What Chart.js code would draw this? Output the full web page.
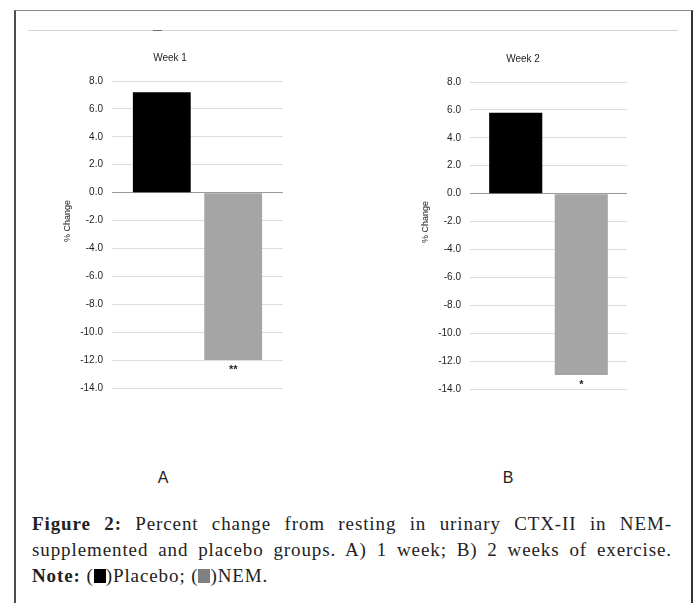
<!DOCTYPE html>
<html>
<head>
<meta charset="utf-8">
<script src="https://cdn.jsdelivr.net/npm/chart.js@4.4.1/dist/chart.umd.min.js"></script>
<style>
  html, body { margin:0; padding:0; background:#fff; }
  body { width:697px; height:603px; position:relative; overflow:hidden; }
  #frame { position:absolute; left:14px; top:10px; width:675px; height:700px;
           border-left:2px solid #4d4d4d; border-right:2px solid #333; border-top:1px solid #8a8a8a; }
  #topline { position:absolute; left:28px; top:30px; width:650px; height:1px; background:#d2d2dc; }
  #topmark { position:absolute; left:153px; top:30px; width:9px; height:1px; background:#707070; }
  canvas { position:absolute; }
  #cA { left:57px; top:48px; }
  #cB { left:419px; top:49px; }
  .panel { position:absolute; top:470px; font:16px "Liberation Sans", Arial, sans-serif; color:#222;
           width:40px; text-align:center; line-height:16px; }
  #caption { position:absolute; left:32px; top:511px; width:640px;
             font:19px "Liberation Serif", "Times New Roman", serif; color:#222; line-height:26px;
             letter-spacing:0.9px; }
  #caption .j { text-align:justify; text-align-last:justify; white-space:nowrap; }
  .sq { display:inline-block; width:12px; height:14px; vertical-align:-1px; }
</style>
</head>
<body>
<div id="frame"></div>
<div id="topline"></div>
<div id="topmark"></div>
<canvas id="cA" width="226" height="355"></canvas>
<canvas id="cB" width="208" height="355"></canvas>
<div class="panel" style="left:143px;">A</div>
<div class="panel" style="left:488px;">B</div>
<div id="caption">
  <div class="j"><b>Figure 2:</b> Percent change from resting in urinary CTX-II in NEM-</div>
  <div class="j">supplemented and placebo groups. A) 1 week; B) 2 weeks of exercise.</div>
  <div><b>Note:</b> (<span class="sq" style="background:#000"></span>)Placebo; (<span class="sq" style="background:#808080"></span>)NEM.</div>
</div>
<script>
// ---- data ----
const weeks   = ["Week 1", "Week 2"];
const seriesNames = ["Placebo", "NEM"];
const placebo = [7.2, 5.8];
const nem     = [-12.0, -13.0];
const sig     = ["**", "*"];
const yMin = -14, yMax = 8, yStep = 2;

const FONT = '"Liberation Sans", Arial, sans-serif';

const extras = {
  id: 'extras',
  afterDatasetsDraw(chart, args, opts) {
    const ctx = chart.ctx, ca = chart.chartArea;
    const bar = chart.getDatasetMeta(1).data[0];
    ctx.save();
    ctx.fillStyle = '#222';
    ctx.font = 'bold 11px ' + FONT;
    ctx.textAlign = 'center';
    ctx.textBaseline = 'top';
    ctx.fillText(opts.sig, bar.x, bar.y + 4);
    ctx.translate(ca.left - 44, ca.top + 140);
    ctx.rotate(-Math.PI / 2);
    ctx.font = '9px ' + FONT;
    ctx.fillStyle = '#222';
    ctx.textBaseline = 'middle';
    ctx.fillText('% Change', 0, 0);
    ctx.restore();
  }
};

function makeChart(id, i, axisWidth) {
  return new Chart(document.getElementById(id), {
    type: 'bar',
    data: {
      labels: [weeks[i]],
      datasets: [
        { label: seriesNames[0], data: [placebo[i]], backgroundColor: '#000000', borderWidth: 0 },
        { label: seriesNames[1], data: [nem[i]], backgroundColor: '#a5a5a5', borderWidth: 0 }
      ]
    },
    options: {
      responsive: false,
      animation: false,
      devicePixelRatio: 1,
      layout: { padding: { top: 0, left: 0, right: 0, bottom: 10 } },
      datasets: { bar: { barPercentage: 0.81, categoryPercentage: 0.835 } },
      plugins: {
        legend: { display: false },
        tooltip: { enabled: false },
        title: { display: true, text: weeks[i], color: '#1e1e1e',
                 font: { family: FONT, size: 10, weight: 'normal' },
                 padding: { top: 4, bottom: 17 } },
        extras: { sig: sig[i] }
      },
      scales: {
        x: { display: false },
        y: {
          min: yMin, max: yMax,
          afterFit(scale) { scale.width = axisWidth; },
          border: { display: false },
          grid: {
            drawTicks: false,
            color: ctx => (ctx.tick && ctx.tick.value === 0) ? '#9a9a9a' : '#dcdcdc',
            lineWidth: 1
          },
          ticks: {
            stepSize: yStep, padding: 9, color: '#1e1e1e',
            font: { family: FONT, size: 10 },
            callback: v => Number(v).toFixed(1)
          }
        }
      }
    },
    plugins: [extras]
  });
}

makeChart('cA', 0, 55);
makeChart('cB', 1, 51);
</script>
</body>
</html>
